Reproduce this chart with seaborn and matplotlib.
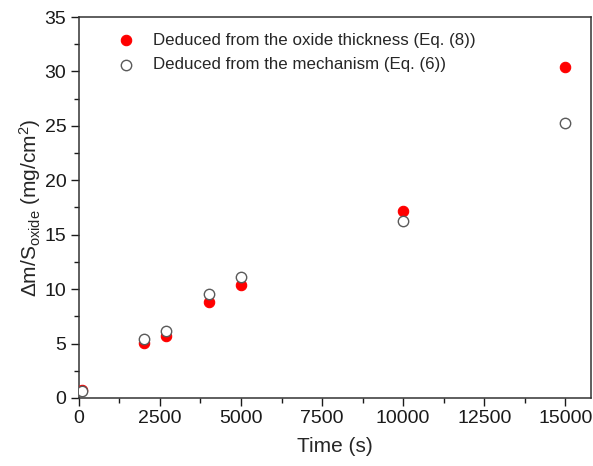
import matplotlib
matplotlib.use("Agg")
import matplotlib.pyplot as plt
import seaborn as sns
import pandas as pd
from matplotlib.ticker import MultipleLocator

time_s = [100, 2000, 2700, 4000, 5000, 10000, 15000]
dm_thickness = [0.75, 5.05, 5.65, 8.8, 10.4, 17.15, 30.4]
dm_mechanism = [0.65, 5.45, 6.15, 9.55, 11.1, 16.3, 25.25]
label_thick = "Deduced from the oxide thickness (Eq. (8))"
label_mech = "Deduced from the mechanism (Eq. (6))"

sns.set_theme(style="ticks")
plt.rcParams['font.family'] = ['Liberation Sans', 'DejaVu Sans']
plt.rcParams['mathtext.fontset'] = 'custom'
plt.rcParams['mathtext.rm'] = 'Liberation Sans'
plt.rcParams['mathtext.it'] = 'Liberation Sans'

fig = plt.figure(figsize=(5.93, 4.66), dpi=100)
ax = fig.add_axes([0.133, 0.146, 0.864, 0.8175])

df1 = pd.DataFrame({"t": time_s, "v": dm_thickness})
df2 = pd.DataFrame({"t": time_s, "v": dm_mechanism})
sns.scatterplot(data=df1, x="t", y="v", ax=ax, color="#ff0000", edgecolor="#ff0000",
                s=56, linewidth=0.8, label=label_thick, zorder=3)
sns.scatterplot(data=df2, x="t", y="v", ax=ax, facecolor="white", edgecolor="#5a5a5a",
                s=56, linewidth=1.0, label=label_mech, zorder=4)

ax.set_xlim(0, 15800)
ax.set_ylim(0, 35)
ax.xaxis.set_major_locator(MultipleLocator(2500))
ax.xaxis.set_minor_locator(MultipleLocator(1250))
ax.yaxis.set_major_locator(MultipleLocator(5))
ax.yaxis.set_minor_locator(MultipleLocator(2.5))
ax.tick_params(which='major', direction='out', length=6, width=1, labelsize=14, colors='#1a1a1a', pad=3)
ax.tick_params(which='minor', direction='out', length=3.5, width=1, colors='#1a1a1a')
for sp in ax.spines.values():
    sp.set_visible(True)
    sp.set_linewidth(1.1)
    sp.set_color('#333333')

ax.set_xlabel("Time (s)", fontsize=15, labelpad=7)
ax.set_ylabel(r"$\Delta$m/S$_{\mathrm{oxide}}$ (mg/cm$^2$)", fontsize=15, labelpad=1)

leg = ax.legend(loc="upper left", frameon=False, fontsize=12.2, handletextpad=0.6,
                borderaxespad=0.3, labelspacing=0.55, bbox_to_anchor=(0.035, 0.99))

fig.savefig("out.png", dpi=100)
